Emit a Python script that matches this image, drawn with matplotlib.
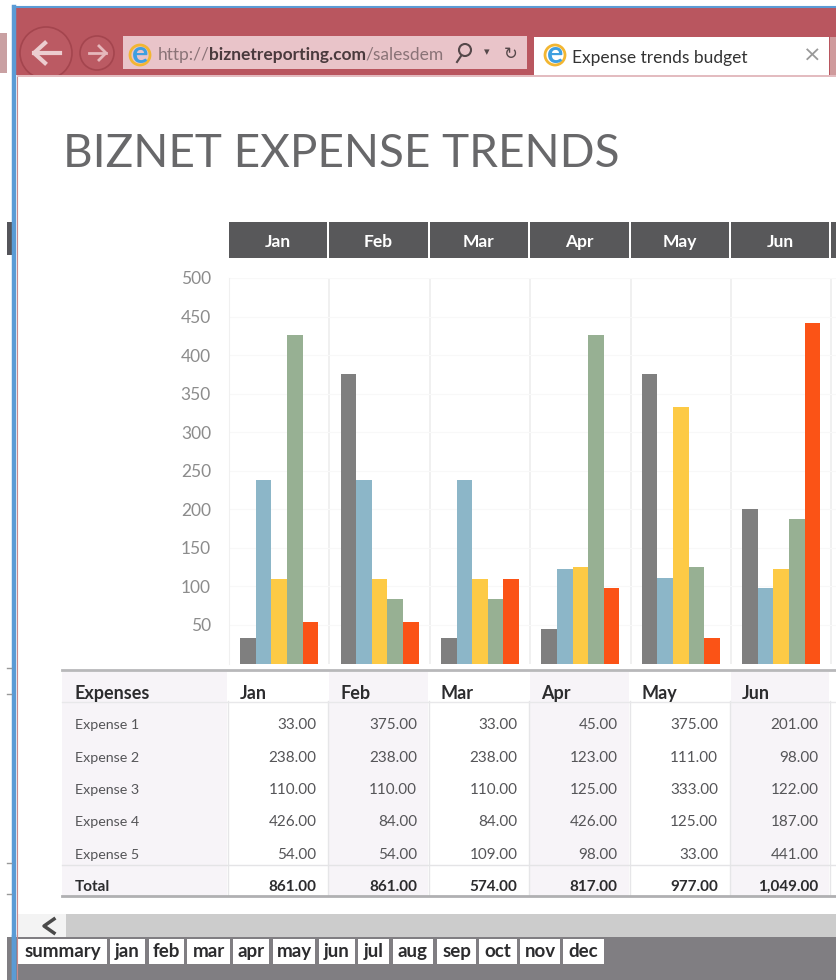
import matplotlib
matplotlib.use('Agg')
import matplotlib.pyplot as plt
from matplotlib.patches import Rectangle, Circle
import numpy as np

months = ['Jan', 'Feb', 'Mar', 'Apr', 'May', 'Jun']
expense_names = ['Expense 1', 'Expense 2', 'Expense 3', 'Expense 4', 'Expense 5']
expense1 = [33, 375, 33, 45, 375, 201]
expense2 = [238, 238, 238, 123, 111, 98]
expense3 = [110, 110, 110, 125, 333, 122]
expense4 = [426, 84, 84, 426, 125, 187]
expense5 = [54, 54, 109, 98, 33, 441]
totals = [861, 861, 574, 817, 977, 1049]
bar_colors = ['#7f7f7f', '#8cb6c8', '#fdca45', '#97b093', '#fb5316']
y_ticks = [50, 100, 150, 200, 250, 300, 350, 400, 450, 500]
sheet_tabs = ['summary', 'jan', 'feb', 'mar', 'apr', 'may', 'jun', 'jul', 'aug', 'sep', 'oct', 'nov', 'dec']
tab_edges = [(18, 107), (110, 145), (149, 184), (187, 230), (233, 269), (273, 315), (319, 355),
             (358, 389), (393, 433), (437, 476), (479, 517), (520, 560), (563, 604)]

W, H = 836, 980
plt.rcParams['font.family'] = ['Lato', 'DejaVu Sans']
fig = plt.figure(figsize=(W / 100, H / 100), dpi=100, facecolor='white')

# everything around the chart is drawn in pixel coordinates
bg = fig.add_axes([0, 0, 1, 1], zorder=0)
bg.set_xlim(0, W)
bg.set_ylim(H, 0)
bg.axis('off')


def box(x0, y0, x1, y1, color, **kw):
    bg.add_patch(Rectangle((x0, y0), x1 - x0, y1 - y0, facecolor=color, edgecolor='none', **kw))


# browser frame
box(13, 8, W, 75, '#b9565f')
box(0, 33, 7, 73, '#c9a0a2')
box(7, 222, 13, 255, '#55555a')
bg.add_patch(Circle((46, 53), 26, facecolor='#bb5a63', edgecolor='#a4454e', lw=1.2))
bg.add_patch(Circle((97, 53), 17, facecolor='#bb5a63', edgecolor='#a4454e', lw=1.2))
box(17, 75, W, H, 'white')
box(123, 36, 527, 69, '#e9c4c9')
box(534, 37, 829, 75, 'white')
box(830, 37, W, 75, '#cf9a9c')
box(17, 75, W, 77, '#e3bcc0')
bg.plot([13.5, 13.5], [7, H], color='#5b9bd5', lw=3.2)
bg.plot([13, W], [7.5, 7.5], color='#5b9bd5', lw=1.5)
bg.plot([16.5, 16.5], [77, H], color='#c98a8e', lw=0.8)
for y in [668, 694, 863, 894]:
    bg.plot([7, 11], [y, y], color='#999999', lw=1)

bg.plot([34, 60], [53, 53], color='#eccdd0', lw=3)
bg.plot([45, 34, 45], [43, 53, 63], color='#eccdd0', lw=3)
bg.plot([89, 106], [53, 53], color='#e6b8bc', lw=2)
bg.plot([99, 106, 99], [46, 53, 60], color='#e6b8bc', lw=2)

for cx in [140, 555]:
    bg.add_patch(Circle((cx, 55), 10, facecolor='none', edgecolor='#f2b632', lw=2))
    bg.text(cx, 54, 'e', color='#3f9fe0', fontsize=22, fontweight='bold', ha='center', va='center')

bg.text(158, 55, 'http://', color='#8a7377', fontsize=12.5, va='center')
bg.text(209, 55, 'biznetreporting.com', color='#4a3a3d', fontsize=12.5, va='center', fontweight='bold')
bg.text(365, 55, '/salesdem', color='#8a7377', fontsize=12.5, va='center')
bg.add_patch(Circle((465, 50), 6, facecolor='none', edgecolor='#55484a', lw=1.5))
bg.plot([461, 457], [56, 62], color='#55484a', lw=1.5)
bg.text(487, 52, '▾', color='#55484a', fontsize=8, ha='center', va='center', family='DejaVu Sans')
bg.text(511, 54, '↻', color='#55484a', fontsize=12, ha='center', va='center', family='DejaVu Sans')
bg.text(572, 58, 'Expense trends budget', color='#333333', fontsize=12.5, va='center')
bg.text(812, 56, '×', color='#999999', fontsize=16, ha='center', va='center', family='DejaVu Sans')

bg.text(63, 154, 'BIZNET EXPENSE TRENDS', color='#68686a', fontsize=33, va='center', fontweight='normal')

# month header strip above the chart
col_w = 100.4
col_x = [229 + col_w * i for i in range(7)]
for i, m in enumerate(months):
    box(col_x[i], 222, col_x[i] + col_w - 2, 258, '#58585a')
    bg.text(col_x[i] + col_w / 2 - 1, 242, m, color='white', fontsize=12.5, fontweight='bold', ha='center', va='center')
box(col_x[6], 222, W, 258, '#58585a')

# chart
ax = fig.add_axes([229 / W, 1 - 663.5 / H, (W - 229) / W, 385.5 / H], zorder=1)
ax.patch.set_alpha(0)
series = [expense1, expense2, expense3, expense4, expense5]
bar_w = 0.155
x = np.arange(len(months)) + 0.5
for k, (vals, c) in enumerate(zip(series, bar_colors)):
    ax.bar(x + (k - 2) * bar_w, vals, width=bar_w, color=c, zorder=3)
ax.set_xlim(0, (W - 229) / col_w)
ax.set_ylim(0, 500)
ax.set_yticks(y_ticks)
ax.tick_params(axis='y', length=0, pad=13, labelsize=12.5, labelcolor='#8c8c8c')
ax.set_xticks(range(1, 7))
ax.tick_params(axis='x', length=0, labelbottom=False)
ax.grid(axis='y', color='#f8f8f8', lw=0.8, zorder=0)
ax.grid(axis='x', color='#eeeeee', lw=1.2, zorder=1)
for s in ax.spines.values():
    s.set_visible(False)
ax.spines['left'].set_visible(True)
ax.spines['left'].set_color('#f0f0f0')

# table under the chart
box(62, 672, 227, 896, '#f7f4f8')
for i in range(len(months)):
    if i % 2 == 1:
        box(col_x[i], 672, col_x[i] + col_w - 2, 896, '#f7f4f8')
for cx in col_x:
    bg.plot([cx - 1, cx - 1], [701, 896], color='#e6e6e8', lw=1)
bg.plot([62, W], [670, 670], color='#b8b8ba', lw=2)
bg.plot([62, W], [701.5, 701.5], color='#e8e8ea', lw=1)
bg.plot([62, W], [865, 865], color='#e4e4e6', lw=1)
bg.plot([62, W], [896, 896], color='#b0b0b2', lw=2)

bg.text(75, 693, 'Expenses', color='#2c2c2e', fontsize=13, fontweight='bold', va='center')
row_y = [725, 758, 790, 822, 855]
for name, vals, y in zip(expense_names, series, row_y):
    bg.text(75, y, name, color='#555558', fontsize=10.3, va='center')
    for i, v in enumerate(vals):
        bg.text(col_x[i] + 87.5, y, f'{v:,.2f}', color='#555558', fontsize=11, ha='right', va='center')
bg.text(75, 887, 'Total', color='#2c2c2e', fontsize=11, fontweight='bold', va='center')
for i, m in enumerate(months):
    bg.text(col_x[i] + 11, 693, m, color='#2c2c2e', fontsize=13, fontweight='bold', va='center')
    bg.text(col_x[i] + 87.5, 887, f'{totals[i]:,.2f}', color='#2c2c2e', fontsize=11, fontweight='bold', ha='right', va='center')

# scrollbar and sheet tabs
box(17, 914, W, 937, '#cccccc')
box(17, 914, 66, 937, '#f3f3f3')
bg.plot([54, 44, 54], [919, 926, 933], color='#4a4a4a', lw=2.5)
box(7, 937, W, H, '#807e82')
for name, (x0, x1) in zip(sheet_tabs, tab_edges):
    box(x0, 939, x1, 964, 'white')
    bg.text((x0 + x1) / 2, 951, name, color='#2c2c2e', fontsize=13.5, fontweight='bold', ha='center', va='center')
bg.plot([13.5, 13.5], [937, H], color='#5b9bd5', lw=3.2)

fig.savefig('out.png', dpi=100)
